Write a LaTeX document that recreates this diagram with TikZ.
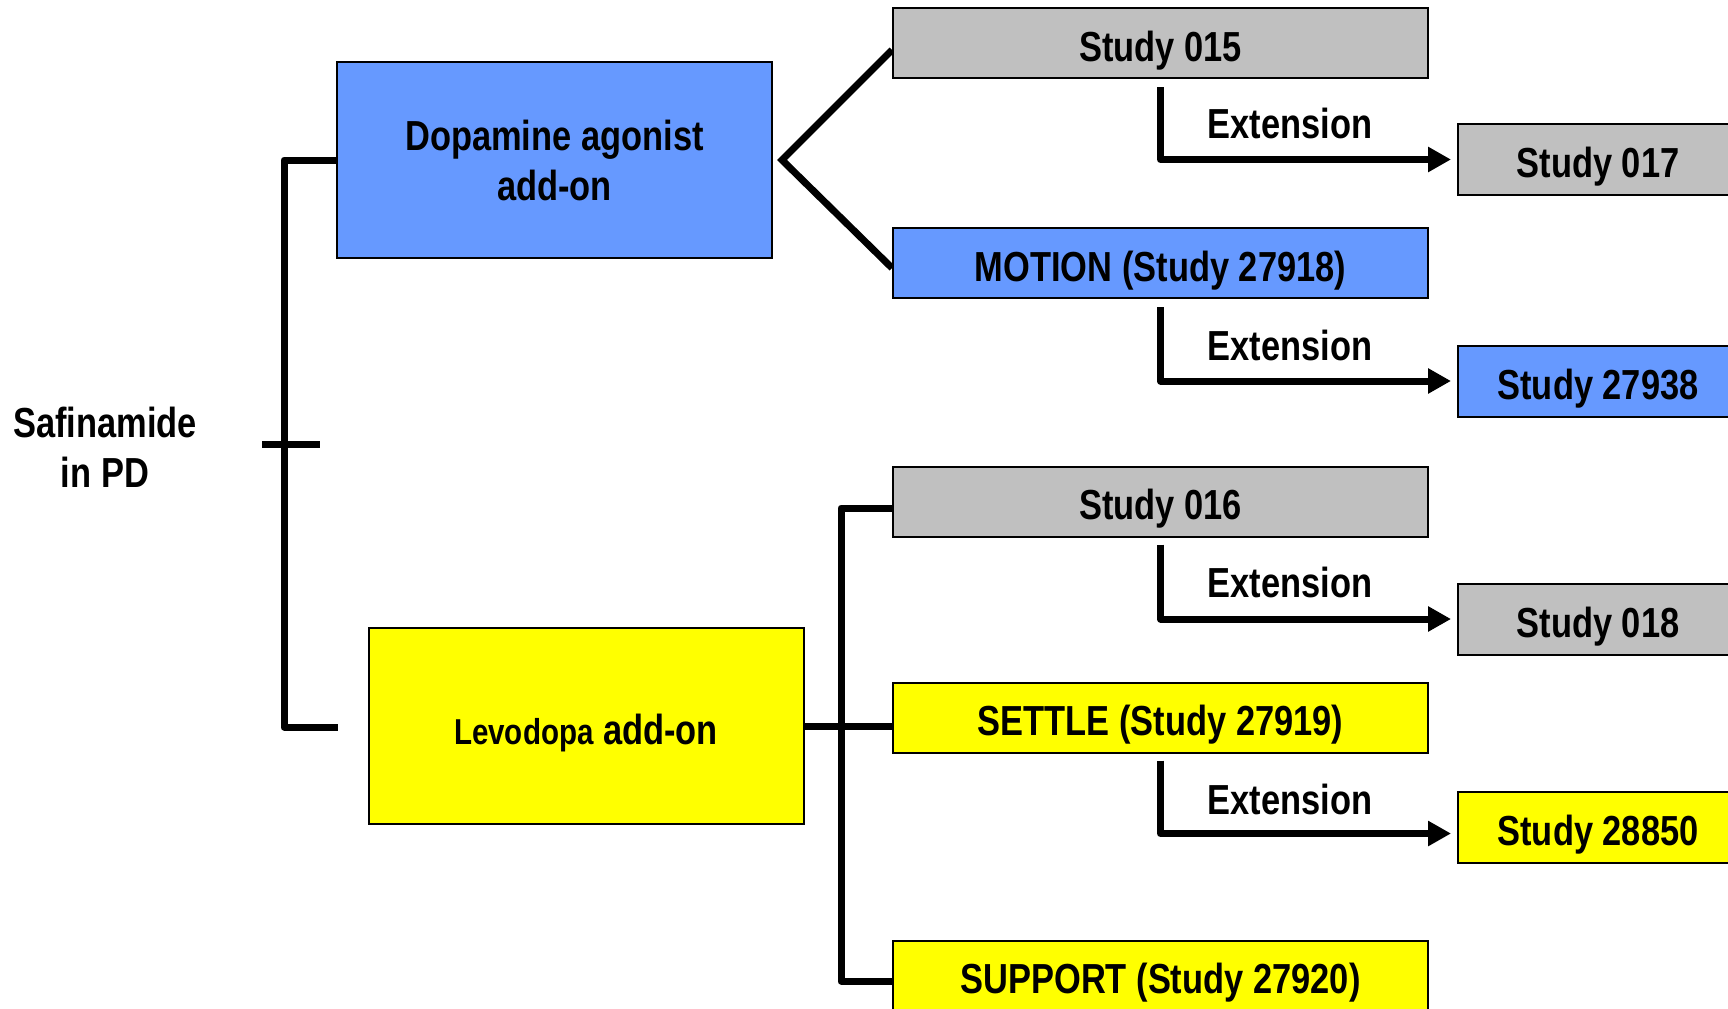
\documentclass[tikz,border=0pt]{standalone}
\usepackage{fontspec}
\setmainfont{Liberation Sans}[FakeStretch=0.82]
\usetikzlibrary{arrows.meta,calc,backgrounds}
\definecolor{boxblue}{HTML}{6699FF}
\definecolor{boxgray}{HTML}{C0C0C0}
\definecolor{boxyellow}{HTML}{FFFF00}
\tikzset{
  box/.style={draw=black, line width=1pt, inner sep=0pt, font=\fontsize{21}{25}\selectfont\bfseries, align=center},
  oneline/.style={text height=18pt, text depth=0pt},
  midbox/.style={box, oneline, minimum width=267.5pt, minimum height=35pt},
  rbox/.style={box, oneline, minimum width=140pt, minimum height=35.5pt},
  bigbox/.style={box, minimum width=217.5pt, minimum height=98pt},
  conn/.style={line width=3.5pt, line join=round},
  extarrow/.style={conn, -{Triangle[length=11.5pt,width=12pt]}},
  lbl/.style={font=\fontsize{21}{25}\selectfont\bfseries, inner sep=0pt, align=center}
}
\begin{document}
\begin{tikzpicture}[x=0.5pt,y=-0.5pt]
\useasboundingbox (0,0) rectangle (1728,1008);
\clip (0,0) rectangle (1728,1008);

% boxes
\node[midbox, fill=boxgray] (s015) at (1160.5,43) {Study 015};
\node[rbox, fill=boxgray] (s017) at (1598,159.5) {Study 017};
\node[midbox, fill=boxblue] (motion) at (1160.5,263) {MOTION (Study 27918)};
\node[rbox, fill=boxblue] (s27938) at (1598,381) {Study 27938};
\node[midbox, fill=boxgray] (s016) at (1160.5,501.5) {Study 016};
\node[rbox, fill=boxgray] (s018) at (1598,619) {Study 018};
\node[midbox, fill=boxyellow] (settle) at (1160.5,717.5) {SETTLE (Study 27919)};
\node[rbox, fill=boxyellow] (s28850) at (1598,827.5) {Study 28850};
\node[midbox, fill=boxyellow] (support) at (1160.5,975.5) {SUPPORT (Study 27920)};
\node[bigbox, fill=boxblue] (dopa) at (554.5,160) {Dopamine agonist\\add-on};
\node[bigbox, oneline, fill=boxyellow] (levo) at (586,726) {{\fontsize{18}{22}\selectfont Levodopa} add-on};

% labels
\node[lbl] (saf) at (105,447) {Safinamide\\in PD};
\node[lbl] (e1) at (1290,123) {Extension};
\node[lbl] (e2) at (1290,345) {Extension};
\node[lbl] (e3) at (1290,582) {Extension};
\node[lbl] (e4) at (1290,799) {Extension};

% helper coordinates
\coordinate (brtop) at (284,160);
\coordinate (lvend) at (338,727);
\coordinate (tickl) at (262,444);
\coordinate (tickr) at (320,444);
\coordinate (apex) at (782,160);
\coordinate (bt) at (841,508);
\coordinate (bb) at (841,981);

\begin{scope}[on background layer]
  % main bracket
  \draw[conn] (dopa.west) -- (brtop) |- (lvend);
  \draw[conn] (tickl) -- (tickr);
  % fork from dopamine box
  \draw[conn, line join=miter] ([yshift=-3.5pt]s015.west) -- (apex) -- ([yshift=-2.5pt]motion.west);
  % levodopa bracket
  \draw[conn] (levo.east) -- (levo.east -| settle.west);
  \draw[conn] (s016.west |- bt) -- (bt) -- (bb) -- (support.west |- bb);
  % extension arrows
  \draw[extarrow] ([yshift=-4pt]s015.south) |- ([xshift=-3pt]s017.west);
  \draw[extarrow] ([yshift=-4pt]motion.south) |- ([xshift=-3pt]s27938.west);
  \draw[extarrow] ([yshift=-3.5pt]s016.south) |- ([xshift=-3pt]s018.west);
  \draw[extarrow] ([yshift=-3.5pt]settle.south) |- ([xshift=-3pt,yshift=-3pt]s28850.west);
\end{scope}
\end{tikzpicture}
\end{document}
